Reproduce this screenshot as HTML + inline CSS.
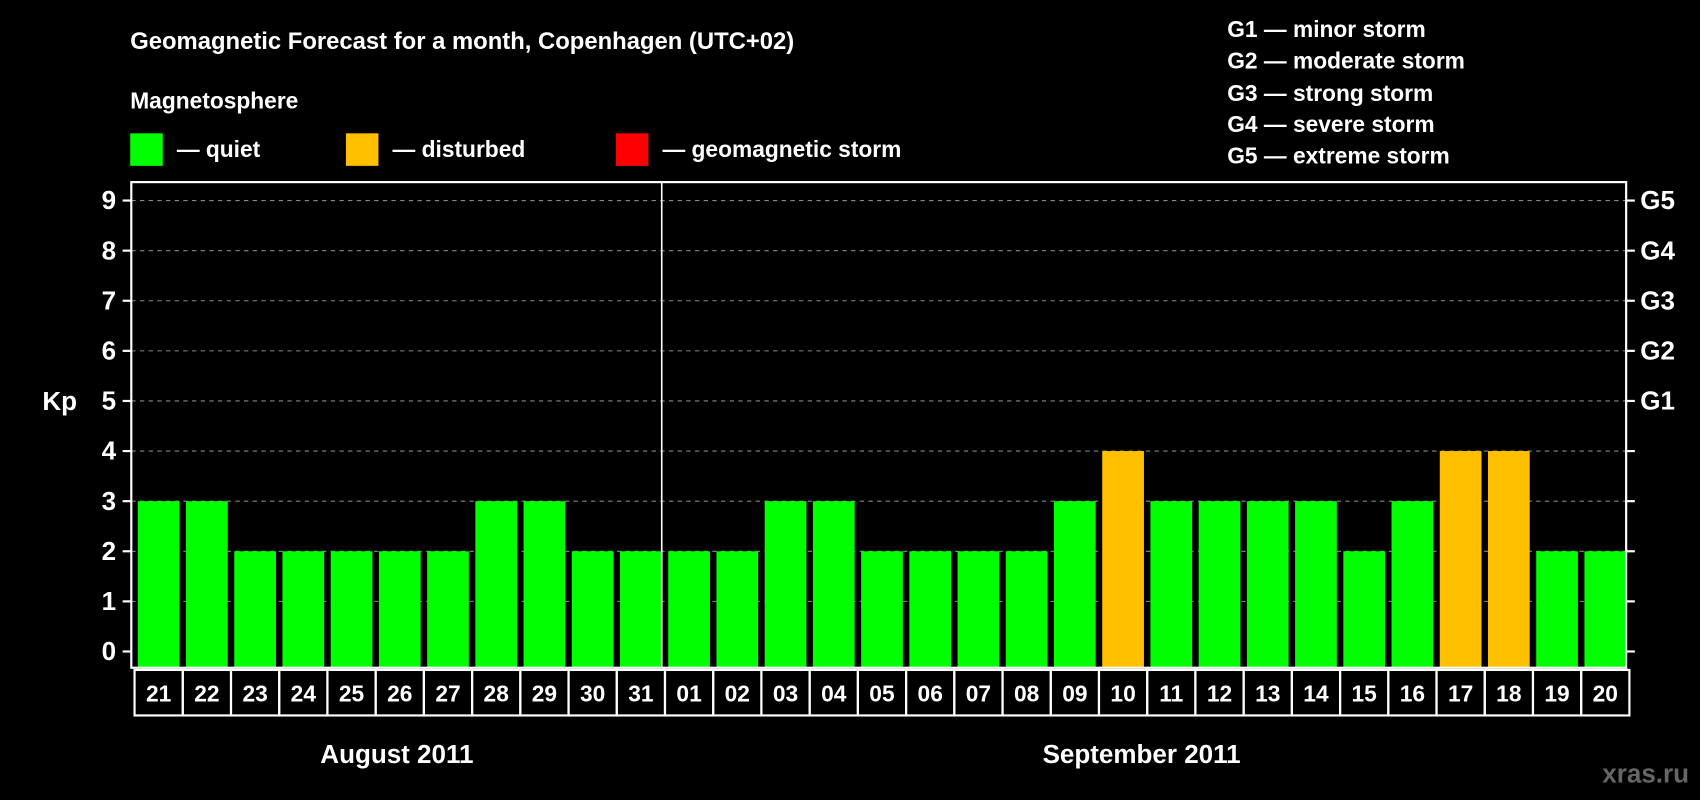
<!DOCTYPE html>
<html><head><meta charset="utf-8"><style>
html,body{margin:0;padding:0;background:#000;}
svg{display:block;}
text{font-family:"Liberation Sans",sans-serif;font-weight:bold;fill:#fff;}
</style></head><body>
<svg id="chart" width="1700" height="800" viewBox="0 0 1568 738">
<rect x="0" y="0" width="1568" height="738" fill="#000"/>
<text x="120" y="45" font-size="22">Geomagnetic Forecast for a month, Copenhagen (UTC+02)</text>
<text x="120" y="100" font-size="21">Magnetosphere</text>
<rect x="120" y="123" width="30" height="30" fill="#00ff00"/>
<text x="163" y="145" font-size="21">— quiet</text>
<rect x="319" y="123" width="30" height="30" fill="#ffc000"/>
<text x="362" y="145" font-size="21">— disturbed</text>
<rect x="568" y="123" width="30" height="30" fill="#ff0000"/>
<text x="611" y="145" font-size="21">— geomagnetic storm</text>
<g font-size="21">
<text x="1132" y="34">G1 — minor storm</text>
<text x="1132" y="63">G2 — moderate storm</text>
<text x="1132" y="93">G3 — strong storm</text>
<text x="1132" y="122">G4 — severe storm</text>
<text x="1132" y="151">G5 — extreme storm</text>
</g>
<text x="39" y="378" font-size="24">Kp</text>
<text x="366" y="704" font-size="24" text-anchor="middle">August 2011</text>
<text x="1053" y="704" font-size="24" text-anchor="middle">September 2011</text>
<text x="1558" y="722" font-size="24" text-anchor="end" style="fill:#666">xras.ru</text>
<g id="plot"></g>
</svg>
<script>
const days = ["21","22","23","24","25","26","27","28","29","30","31","01","02","03","04","05","06","07","08","09","10","11","12","13","14","15","16","17","18","19","20"];
const kpValues = [3,3,2,2,2,2,2,3,3,2,2,2,2,3,3,2,2,2,2,3,4,3,3,3,3,2,3,4,4,2,2];
const yTicks = [0,1,2,3,4,5,6,7,8,9];
const gLabels = ["G1","G2","G3","G4","G5"];
const gLevels = [5,6,7,8,9];

const NS="http://www.w3.org/2000/svg";
const g=document.getElementById('plot');
const L=121,R=1500,T=168,B=616,Y0=601,Y9=185;
const y=v=>Y0-(Y0-Y9)*v/9;
const bw=(R-L)/days.length;
const x=i=>L+i*bw;
function mk(tag,a){const e=document.createElementNS(NS,tag);for(const k in a)e.setAttribute(k,a[k]);g.appendChild(e);return e;}
yTicks.forEach(v=>{
  if(v>0){const l=mk('line',{x1:L,x2:R,y1:y(v),y2:y(v),stroke:'#888','stroke-dasharray':'4,4','stroke-width':1});
  
  }
  const t1=mk('line',{x1:L-8,x2:L,y1:y(v),y2:y(v),stroke:'#fff','stroke-width':2});
  
  
  const t2=mk('line',{x1:R,x2:R+8,y1:y(v),y2:y(v),stroke:'#fff','stroke-width':2});
  
  
  const tx=mk('text',{x:L-14,y:y(v)+8,'font-size':24,'text-anchor':'end'});tx.textContent=v;
  
  
});
gLabels.forEach((s,i)=>{
  const t=mk('text',{x:R+13,y:y(gLevels[i])+8,'font-size':24});t.textContent=s;
  
  
});
kpValues.forEach((v,i)=>{
  const c=v>=5?'#ff0000':(v>=4?'#ffc000':'#00ff00');
  const r=mk('rect',{x:x(i)+6,y:y(v),width:bw-6,height:B-y(v),fill:c});
  
  
  const b=mk('rect',{x:x(i)+3,y:618,width:bw,height:42,fill:'none',stroke:'#fff','stroke-width':2});
  
  
  const t=mk('text',{x:x(i)+3+bw/2,y:647,'font-size':21,'text-anchor':'middle'});t.textContent=days[i];
  
  
});
const fr=mk('rect',{x:L,y:T,width:R-L,height:B-T,fill:'none',stroke:'#fff','stroke-width':2});


const dv=mk('line',{x1:x(11),x2:x(11),y1:T,y2:B,stroke:'#fff','stroke-width':1.5});


</script>
</body></html>
